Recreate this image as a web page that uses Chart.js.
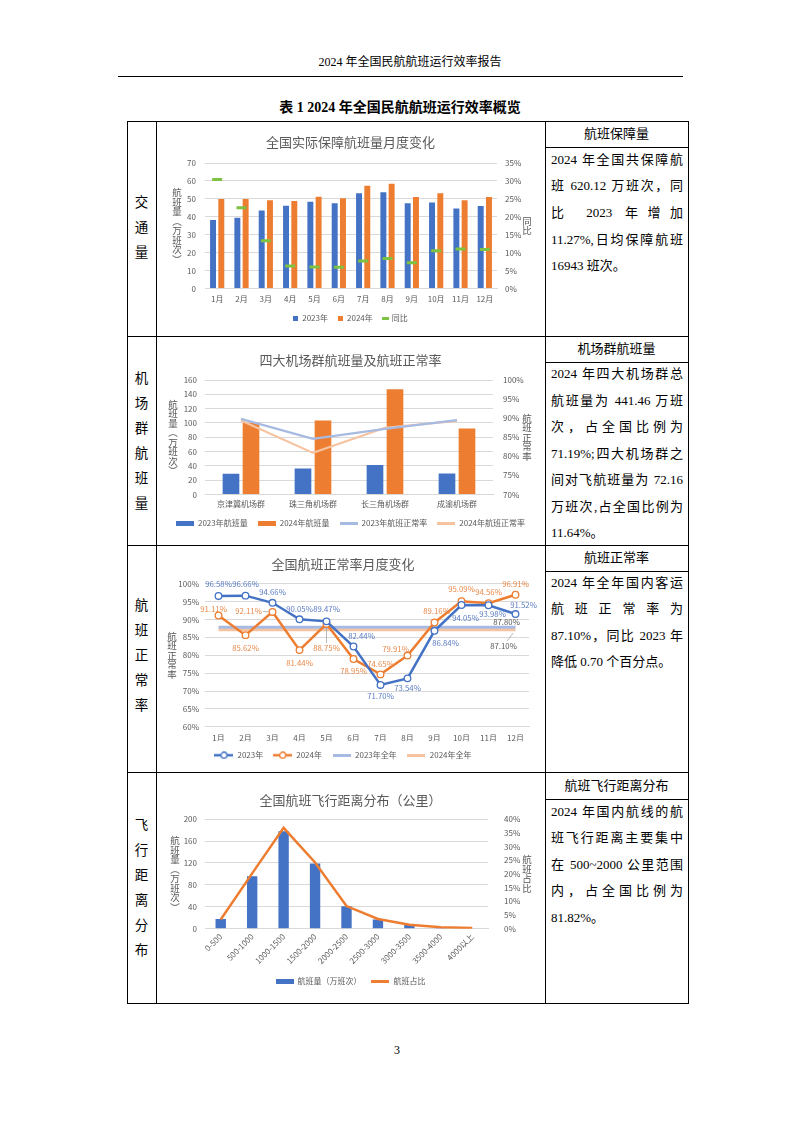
<!DOCTYPE html>
<html lang="zh-CN">
<head>
<meta charset="utf-8">
<title>2024年全国民航航班运行效率概览</title>
<script src="https://cdn.jsdelivr.net/npm/chart.js@4.4.1/dist/chart.umd.min.js"></script>
<style>
html,body{margin:0;padding:0;background:#fff}
body{position:relative;width:793px;height:1122px;overflow:hidden;font-family:"Liberation Serif","Noto Sans CJK SC",serif;color:#000}
.a{position:absolute;white-space:nowrap}
.hl{position:absolute;height:1px;background:#000}
.vl{position:absolute;width:1px;background:#000}
.ln{position:absolute;left:551px;width:132px;height:20px;line-height:20px;font-size:13px;white-space:nowrap}
.j{text-align:justify;text-align-last:justify}
.hd{position:absolute;left:545px;width:143px;height:20px;line-height:20px;text-align:center;font-size:13px}
.side{position:absolute;left:127px;width:29px;text-align:center;font-size:13.5px;line-height:25px}
canvas{position:absolute;left:157px}
</style>
</head>
<body>
<div class="a" style="left:310px;width:200px;top:54px;text-align:center;font-size:12px;line-height:16px">2024 年全国民航航班运行效率报告</div>
<div class="hl" style="left:118px;width:565px;top:76px"></div>
<div class="a" style="left:250px;width:300px;top:99px;text-align:center;font-size:14px;line-height:18px;font-weight:bold">表 1 2024 年全国民航航班运行效率概览</div>

<canvas id="c1" width="387" height="214" style="top:121px"></canvas>
<canvas id="c2" width="387" height="207" style="top:337px"></canvas>
<canvas id="c3" width="387" height="225" style="top:546px"></canvas>
<canvas id="c4" width="387" height="229" style="top:773px"></canvas>

<div class="side" style="top:190px">交<br>通<br>量</div>
<div class="side" style="top:366px">机<br>场<br>群<br>航<br>班<br>量</div>
<div class="side" style="top:593px">航<br>班<br>正<br>常<br>率</div>
<div class="side" style="top:813px">飞<br>行<br>距<br>离<br>分<br>布</div>

<div class="hd" style="top:124px">航班保障量</div>
<div class="ln j" style="top:150px">2024 年全国共保障航</div>
<div class="ln j" style="top:176px">班 620.12 万班次，同</div>
<div class="ln j" style="top:203px">比 2023 年增加</div>
<div class="ln j" style="top:230px">11.27%,日均保障航班</div>
<div class="ln" style="top:256px">16943 班次。</div>

<div class="hd" style="top:339px">机场群航班量</div>
<div class="ln j" style="top:364px">2024 年四大机场群总</div>
<div class="ln j" style="top:391px">航班量为 441.46 万班</div>
<div class="ln j" style="top:417px">次，占全国比例为</div>
<div class="ln j" style="top:444px">71.19%;四大机场群之</div>
<div class="ln j" style="top:470px">间对飞航班量为 72.16</div>
<div class="ln j" style="top:497px">万班次,占全国比例为</div>
<div class="ln" style="top:523px">11.64%。</div>

<div class="hd" style="top:548px">航班正常率</div>
<div class="ln j" style="top:573px">2024 年全年国内客运</div>
<div class="ln j" style="top:599px">航班正常率为</div>
<div class="ln j" style="top:626px">87.10%，同比 2023 年</div>
<div class="ln" style="top:652px">降低 0.70 个百分点。</div>

<div class="hd" style="top:776px">航班飞行距离分布</div>
<div class="ln j" style="top:802px">2024 年国内航线的航</div>
<div class="ln j" style="top:828px">班飞行距离主要集中</div>
<div class="ln j" style="top:855px">在 500~2000 公里范围</div>
<div class="ln j" style="top:881px">内，占全国比例为</div>
<div class="ln" style="top:908px">81.82%。</div>

<div class="a" style="left:380px;width:34px;top:1042px;text-align:center;font-size:12px;line-height:16px">3</div>

<!-- table rules -->
<div class="hl" style="left:127px;width:562px;top:121px"></div>
<div class="hl" style="left:127px;width:562px;top:336px"></div>
<div class="hl" style="left:127px;width:562px;top:545px"></div>
<div class="hl" style="left:127px;width:562px;top:772px"></div>
<div class="hl" style="left:127px;width:562px;top:1003px"></div>
<div class="hl" style="left:545px;width:143px;top:147px"></div>
<div class="hl" style="left:545px;width:143px;top:362px"></div>
<div class="hl" style="left:545px;width:143px;top:571px"></div>
<div class="hl" style="left:545px;width:143px;top:799px"></div>
<div class="vl" style="left:127px;top:121px;height:883px"></div>
<div class="vl" style="left:156px;top:121px;height:883px"></div>
<div class="vl" style="left:545px;top:121px;height:883px"></div>
<div class="vl" style="left:688px;top:121px;height:883px"></div>

<script>
'use strict';
// 交通量
const months = ['1月', '2月', '3月', '4月', '5月', '6月', '7月', '8月', '9月', '10月', '11月', '12月'];
const flights2023 = [38.2, 39.4, 43.5, 46.1, 48.4, 47.5, 53.1, 53.7, 47.5, 48.0, 44.6, 46.0];
const flights2024 = [49.9, 49.9, 49.2, 48.8, 51.2, 50.3, 57.3, 58.4, 51.0, 53.1, 49.2, 51.0];
const yoy = [30.4, 22.5, 13.3, 6.3, 6.0, 5.9, 7.7, 8.4, 7.2, 10.5, 11.0, 10.9];

// 机场群
const clusters = ['京津冀机场群', '珠三角机场群', '长三角机场群', '成渝机场群'];
const clusterFlights2023 = [29.0, 36.5, 41.2, 29.5];
const clusterFlights2024 = [100.1, 103.4, 146.9, 92.2];
const clusterRate2023 = [89.8, 84.6, 87.2, 89.5];
const clusterRate2024 = [89.4, 80.9, 87.5, 89.3];

// 正常率
const rate2023 = [96.58, 96.66, 94.66, 90.05, 89.47, 82.44, 71.70, 73.54, 86.84, 94.05, 93.98, 91.52];
const rate2024 = [91.11, 85.62, 92.11, 81.44, 88.75, 78.95, 74.65, 79.91, 89.16, 95.09, 94.56, 96.91];
const full2023 = 87.80;
const full2024 = 87.10;

// 飞行距离
const distances = ['0-500', '500-1000', '1000-1500', '1500-2000', '2000-2500', '2500-3000', '3000-3500', '3500-4000', '4000以上'];
const distFlights = [18, 96, 178, 119, 41, 17, 8, 2, 1];
const distShare = [3.4, 20.2, 36.8, 24.2, 8.3, 3.6, 1.5, 0.6, 0.3];

// label placement for the 正常率 chart (dx, dy from point, optional leader)
const offsets2023 = [[0, -12], [0, -12], [0, -11], [0, -10], [0, -12], [8, -10], [0, 11], [0, 10], [11, 12], [4, 13], [4, 9], [8, -9]];
const offsets2024 = [[-5, -6], [0, 13], [-24, -1, 1], [0, 13], [0, 24, 1], [0, 12], [0, -10], [-12, -7], [2, -11], [0, -12], [0, -11], [0, -11]];

const BLUE = '#4472C4';
const ORANGE = '#ED7D31';
const GREEN = '#7DC242';
const LBLUE = '#A7BBE2';
const LORANGE = '#F6C3A0';
const GRID = '#D9D9D9';
const TXT = '#595959';

Chart.defaults.font.family = '"Noto Sans CJK SC", sans-serif';
Chart.defaults.font.size = 8;
Chart.defaults.color = TXT;
Chart.defaults.animation = false;

function icon(kind, color) {
    const c = document.createElement('canvas');
    const sizes = {square: [5, 5], bar: [18, 5], dash: [7, 3], line: [18, 3], dot: [19, 8]};
    c.width = sizes[kind][0];
    c.height = sizes[kind][1];
    const g = c.getContext('2d');
    g.fillStyle = color;
    g.strokeStyle = color;
    if (kind === 'dot') {
        g.lineWidth = 2.5;
        g.beginPath(); g.moveTo(0, 4); g.lineTo(19, 4); g.stroke();
        g.beginPath(); g.arc(9.5, 4, 3, 0, Math.PI * 2);
        g.fillStyle = '#fff'; g.fill();
        g.lineWidth = 1.3; g.stroke();
    } else {
        g.fillRect(0, 0, c.width, c.height);
    }
    return c;
}

// stacked (vertical) axis titles, centred on the plot area
const vTitle = {
    id: 'vTitle',
    afterDraw(chart, args, opts) {
        const ctx = chart.ctx, a = chart.chartArea;
        ctx.save();
        ctx.fillStyle = TXT;
        ctx.font = '9.5px "Noto Sans CJK SC"';
        ctx.textAlign = 'center';
        ctx.textBaseline = 'middle';
        (opts.items || []).forEach(function(it) {
            const chars = Array.from(it.text);
            let y = (a.top + a.bottom) / 2 - (chars.length - 1) * 9.5 / 2;
            chars.forEach(function(ch) { ctx.fillText(ch, it.x, y); y += 9.5; });
        });
        ctx.restore();
    }
};

const pointLabels = {
    id: 'pointLabels',
    afterDatasetsDraw(chart) {
        const ctx = chart.ctx;
        ctx.save();
        ctx.font = '7.8px "Noto Sans CJK SC"';
        ctx.textAlign = 'center';
        ctx.textBaseline = 'middle';
        chart.data.datasets.forEach(function(ds, i) {
            if (!ds.labelOffsets) return;
            chart.getDatasetMeta(i).data.forEach(function(pt, j) {
                const o = ds.labelOffsets[j];
                if (!o) return;
                const v = typeof ds.data[j] === 'object' ? ds.data[j].y : ds.data[j];
                const text = v.toFixed(2) + '%';
                const lx = pt.x + o[0], ly = pt.y + o[1];
                if (o[2]) {
                    const w = ctx.measureText(text).width / 2 + 1, h = 5;
                    const dx = pt.x - lx, dy = pt.y - ly, d = Math.hypot(dx, dy);
                    const ux = dx / d, uy = dy / d;
                    const t = Math.min(ux ? w / Math.abs(ux) : 1e9, uy ? h / Math.abs(uy) : 1e9);
                    ctx.strokeStyle = '#A6A6A6';
                    ctx.lineWidth = 0.8;
                    ctx.beginPath();
                    ctx.moveTo(lx + ux * t, ly + uy * t);
                    ctx.lineTo(pt.x - ux * 4, pt.y - uy * 4);
                    ctx.stroke();
                }
                ctx.fillStyle = ds.labelColor;
                ctx.fillText(text, lx, ly);
            });
        });
        ctx.restore();
    }
};

function fixW(w) { return function(s) { s.width = w; }; }
function fixH(h) { return function(s) { s.height = h; }; }

function legendOpts(iconWidth) {
    return {
        position: 'bottom',
        labels: {
            usePointStyle: true,
            pointStyleWidth: iconWidth,
            padding: 10,
            color: TXT,
            generateLabels: function(chart) {
                const items = Chart.defaults.plugins.legend.labels.generateLabels(chart);
                items.forEach(function(it) { it.pointStyle = chart.data.datasets[it.datasetIndex].legendIcon; });
                return items;
            },
            sort: function(a, b) { return a.datasetIndex - b.datasetIndex; }
        }
    };
}

function titleOpts(text, top, bottom) {
    return {display: true, text: text, color: TXT, font: {size: 13, weight: 'normal'}, padding: {top: top, bottom: bottom}};
}

const pct = function(v) { return v + '%'; };
const xGrid = {display: false, drawTicks: false};

new Chart(document.getElementById('c1'), {
    type: 'bar',
    data: {
        labels: months,
        datasets: [
            {label: '2023年', data: flights2023, backgroundColor: BLUE, order: 1, categoryPercentage: 0.68, barPercentage: 0.72, legendIcon: icon('square', BLUE)},
            {label: '2024年', data: flights2024, backgroundColor: ORANGE, order: 1, categoryPercentage: 0.68, barPercentage: 0.72, legendIcon: icon('square', ORANGE)},
            {type: 'line', label: '同比', data: yoy, yAxisID: 'y1', showLine: false, pointStyle: 'line', pointRadius: 5, pointBorderWidth: 3,
                borderColor: GREEN, backgroundColor: GREEN, order: 0, legendIcon: icon('dash', GREEN)}
        ]
    },
    options: {
        responsive: false,
        layout: {padding: {bottom: 2.75}},
        scales: {
            x: {grid: xGrid, border: {color: GRID}, ticks: {padding: 6, maxRotation: 0}, afterFit: fixH(15.75)},
            y: {min: 0, max: 70, ticks: {stepSize: 10, padding: 9}, grid: {color: GRID, drawTicks: false}, border: {display: false}, afterFit: fixW(48)},
            y1: {position: 'right', min: 0, max: 35, ticks: {stepSize: 5, padding: 8, callback: pct}, grid: {display: false, drawTicks: false}, border: {display: false}, afterFit: fixW(47)}
        },
        plugins: {
            title: titleOpts('全国实际保障航班量月度变化', 13.2, 13.2),
            legend: legendOpts(5),
            tooltip: {enabled: false},
            vTitle: {items: [{text: '航班量︵万班次︶', x: 20}, {text: '同比', x: 370}]}
        }
    },
    plugins: [vTitle]
});

new Chart(document.getElementById('c2'), {
    type: 'bar',
    data: {
        labels: clusters,
        datasets: [
            {label: '2023年航班量', data: clusterFlights2023, backgroundColor: BLUE, order: 1, categoryPercentage: 0.556, barPercentage: 0.833, legendIcon: icon('bar', BLUE)},
            {label: '2024年航班量', data: clusterFlights2024, backgroundColor: ORANGE, order: 1, categoryPercentage: 0.556, barPercentage: 0.833, legendIcon: icon('bar', ORANGE)},
            {type: 'line', label: '2023年航班正常率', data: clusterRate2023, yAxisID: 'y1', borderColor: LBLUE, borderWidth: 2.2, pointRadius: 0, order: 0, legendIcon: icon('line', LBLUE)},
            {type: 'line', label: '2024年航班正常率', data: clusterRate2024, yAxisID: 'y1', borderColor: LORANGE, borderWidth: 2.2, pointRadius: 0, order: 0, legendIcon: icon('line', LORANGE)}
        ]
    },
    options: {
        responsive: false,
        layout: {padding: {bottom: 6.75}},
        scales: {
            x: {grid: xGrid, border: {color: GRID}, ticks: {padding: 5, maxRotation: 0}, afterFit: fixH(14.75)},
            y: {min: 0, max: 160, ticks: {stepSize: 20, padding: 8}, grid: {color: GRID, drawTicks: false}, border: {display: false}, afterFit: fixW(48)},
            y1: {position: 'right', min: 70, max: 100, ticks: {stepSize: 5, padding: 10, callback: pct}, grid: {display: false, drawTicks: false}, border: {display: false}, afterFit: fixW(51)}
        },
        plugins: {
            title: titleOpts('四大机场群航班量及航班正常率', 15.2, 12.2),
            legend: legendOpts(18),
            tooltip: {enabled: false},
            vTitle: {items: [{text: '航班量︵万班次︶', x: 16}, {text: '航班正常率', x: 370}]}
        }
    },
    plugins: [vTitle]
});

new Chart(document.getElementById('c3'), {
    type: 'line',
    data: {
        labels: months,
        datasets: [
            {label: '2023年', data: rate2023, borderColor: BLUE, borderWidth: 2.5, pointRadius: 3.3, pointBackgroundColor: '#fff', pointBorderWidth: 1.3,
                order: 0, labelOffsets: offsets2023, labelColor: '#5B7CC4', legendIcon: icon('dot', BLUE)},
            {label: '2024年', data: rate2024, borderColor: ORANGE, borderWidth: 2.5, pointRadius: 3.3, pointBackgroundColor: '#fff', pointBorderWidth: 1.3,
                order: 1, labelOffsets: offsets2024, labelColor: '#E8894A', legendIcon: icon('dot', ORANGE)},
            {label: '2023年全年', data: [{x: '1月', y: full2023}, {x: '12月', y: full2023}], borderColor: LBLUE, borderWidth: 3, pointRadius: 0,
                order: 2, labelOffsets: [null, [-9, -5.5]], labelColor: TXT, legendIcon: icon('line', LBLUE)},
            {label: '2024年全年', data: [{x: '1月', y: full2024}, {x: '12月', y: full2024}], borderColor: LORANGE, borderWidth: 3, pointRadius: 0,
                order: 3, labelOffsets: [null, [-12, 16, 1]], labelColor: TXT, legendIcon: icon('line', LORANGE)}
        ]
    },
    options: {
        responsive: false,
        layout: {padding: {bottom: 1.75, right: 15}},
        scales: {
            x: {offset: true, grid: xGrid, border: {color: GRID}, ticks: {padding: 6, maxRotation: 0}, afterFit: fixH(14.45)},
            y: {min: 60, max: 100, ticks: {stepSize: 5, padding: 6, callback: pct}, grid: {color: GRID, drawTicks: false}, border: {display: false}, afterFit: fixW(48)}
        },
        plugins: {
            title: titleOpts('全国航班正常率月度变化', 10.2, 11.9),
            legend: legendOpts(19),
            tooltip: {enabled: false},
            vTitle: {items: [{text: '航班正常率', x: 15}]}
        }
    },
    plugins: [vTitle, pointLabels]
});

new Chart(document.getElementById('c4'), {
    type: 'bar',
    data: {
        labels: distances,
        datasets: [
            {label: '航班量（万班次）', data: distFlights, backgroundColor: BLUE, order: 1, categoryPercentage: 0.5, barPercentage: 0.66, legendIcon: icon('bar', BLUE)},
            {type: 'line', label: '航班占比', data: distShare, yAxisID: 'y1', borderColor: ORANGE, borderWidth: 2.5, pointRadius: 0, order: 0, legendIcon: icon('line', ORANGE)}
        ]
    },
    options: {
        responsive: false,
        layout: {padding: {bottom: 6.75}},
        scales: {
            x: {grid: xGrid, border: {color: GRID}, ticks: {padding: 3, minRotation: 45, maxRotation: 45}, afterFit: fixH(38.45)},
            y: {min: 0, max: 200, ticks: {stepSize: 20, padding: 8}, grid: {color: GRID, drawTicks: false}, border: {display: false}, afterFit: fixW(48)},
            y1: {position: 'right', min: 0, max: 40, ticks: {stepSize: 5, padding: 16, callback: pct}, grid: {display: false, drawTicks: false}, border: {display: false}, afterFit: fixW(56)}
        },
        plugins: {
            title: titleOpts('全国航班飞行距离分布（公里）', 19.2, 11.3),
            legend: legendOpts(18),
            tooltip: {enabled: false},
            vTitle: {items: [{text: '航班量︵万班次︶', x: 18}, {text: '航班占比', x: 370}]}
        }
    },
    plugins: [vTitle]
});
</script>
</body>
</html>
